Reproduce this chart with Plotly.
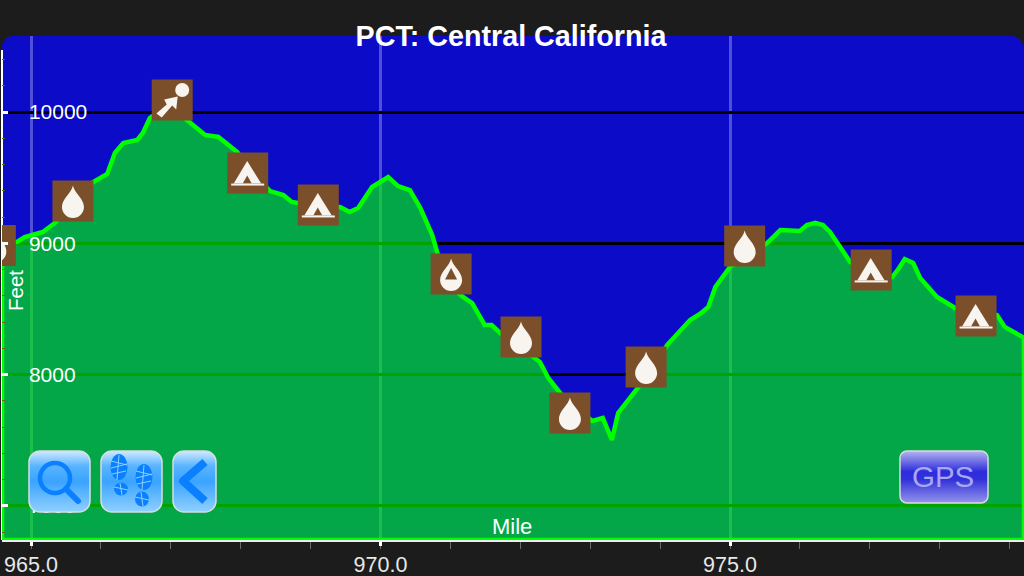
import base64
import plotly.graph_objects as go

# Elevation profile
miles = [964.585, 964.80, 964.91, 965.17, 965.34, 965.60, 965.89, 966.09, 966.20, 966.32,
         966.52, 966.60, 966.70, 966.85, 967.10, 967.23, 967.49, 967.68, 967.95, 968.13,
         968.42, 968.61, 968.73, 968.82, 969.13, 969.42, 969.56, 969.68, 969.88, 970.11,
         970.25, 970.42, 970.57, 970.74, 970.85, 970.99, 971.18, 971.31, 971.49, 971.59,
         971.71, 972.00, 972.28, 972.40, 972.57, 972.78, 973.03, 973.18, 973.31, 973.40,
         973.67, 973.86, 974.10, 974.28, 974.43, 974.57, 974.69, 974.79, 975.00, 975.29,
         975.53, 975.72, 976.00, 976.10, 976.22, 976.33, 976.43, 976.72, 977.00, 977.32,
         977.40, 977.50, 977.62, 977.72, 977.96, 978.22, 978.50, 978.82, 978.93, 979.206]
feet = [8987, 9010, 9048, 9086, 9155, 9307, 9467, 9528, 9688, 9764,
        9787, 9840, 9954, 10008, 10000, 9939, 9825, 9810, 9695, 9558,
        9398, 9368, 9315, 9307, 9276, 9276, 9238, 9269, 9429, 9505,
        9436, 9406, 9269, 9063, 8858, 8682, 8591, 8545, 8378, 8378,
        8317, 8210, 8096, 7974, 7860, 7746, 7647, 7670, 7502, 7708,
        7898, 8020, 8225, 8324, 8416, 8462, 8515, 8667, 8820, 8911,
        9002, 9101, 9094, 9139, 9155, 9139, 9086, 8858, 8781, 8743,
        8797, 8880, 8850, 8736, 8591, 8507, 8477, 8454, 8363, 8280]

# Waypoints on the trail
way_miles = [964.49, 965.60, 967.02, 968.10, 969.11, 971.01, 972.01, 972.71, 973.80, 975.21, 977.02, 978.52]
way_feet = [8983, 9322, 10091, 9535, 9292, 8766, 8286, 7708, 8058, 8979, 8797, 8446]
way_kind = ["drop", "drop", "exit", "tent", "tent", "half", "drop", "drop", "drop", "drop", "tent", "tent"]

x_ticks = [965, 970, 975]
x_labels = ["965.0", "970.0", "975.0"]
y_ticks = [7000, 8000, 9000, 10000]
y_labels = ["7000", "8000", "9000", "10000"]

x_range = [964.585, 979.206]
y_range = [6740, 10579]

FONDO = "#1c1c1c"
AZUL = "#0c0cc8"
BROWN = "#7b4f2a"
WHITE = "#f8f4f0"
FONT = "Liberation Sans"

# plot area in pixels
L, R, T, B = 2, 1024, 36, 540


def px(x):
    return (x - L) / (R - L)


def py(y):
    return (B - y) / (B - T)


def svg_uri(w, h, body):
    s = f'<svg xmlns="http://www.w3.org/2000/svg" width="{w*4}" height="{h*4}" viewBox="0 0 {w} {h}">{body}</svg>'
    return "data:image/svg+xml;base64," + base64.b64encode(s.encode()).decode()


DROP = "M20.5 5C19 13 9.5 18 9.5 26.5A11 11 0 0 0 31.5 26.5C31.5 18 22 13 20.5 5Z"
ICONS = {
    "drop": f'<path d="{DROP}" fill="{WHITE}"/>',
    "half": f'<path d="{DROP}" fill="{WHITE}"/><path d="M20.5 14.5L26.5 26H14.5Z" fill="{BROWN}"/>',
    "tent": f'<path d="M20 8.5L34 31H6.5Z" fill="{WHITE}"/><path d="M20 23L24.5 31H15.5Z" fill="{BROWN}"/>'
            f'<rect x="4" y="31" width="33" height="2" fill="{WHITE}"/>',
    "exit": f'<circle cx="30.5" cy="10.5" r="7" fill="{WHITE}"/>'
            f'<path d="M4.7 34L15 25L12.5 20L26 17L24.5 30L20.5 26L10 38Z" fill="{WHITE}"/>',
}

BLUE_GRAD = ('<defs><linearGradient id="g" x1="0" y1="0" x2="0" y2="1">'
             '<stop offset="0" stop-color="#d0eaff"/><stop offset="0.25" stop-color="#58b4ff"/>'
             '<stop offset="0.5" stop-color="#3aa4ff"/><stop offset="1" stop-color="#90d0ff"/>'
             '</linearGradient></defs>')
GPS_GRAD = ('<defs><linearGradient id="g" x1="0" y1="0" x2="0" y2="1">'
            '<stop offset="0" stop-color="#b4b4f0"/><stop offset="0.4" stop-color="#2c2cdc"/>'
            '<stop offset="0.55" stop-color="#3232dc"/><stop offset="1" stop-color="#9494ea"/>'
            '</linearGradient></defs>')


def boton(w, h, grad, inner, rx=11):
    return svg_uri(w, h, grad + f'<rect x="1" y="1" width="{w-2}" height="{h-2}" rx="{rx}" fill="url(#g)" '
                                'stroke="#d8dce0" stroke-width="1.5"/>' + inner)


AZ = "#0a80ff"
LUPA = (f'<circle cx="27" cy="28" r="15" fill="none" stroke="{AZ}" stroke-width="4.5"/>'
        f'<path d="M38 39L50 51" stroke="{AZ}" stroke-width="6" stroke-linecap="round"/>')
TREAD = 'stroke="#8fd0ff" stroke-width="1" fill="none"'
BOTAS = (f'<ellipse cx="19" cy="17" rx="8.5" ry="13" fill="{AZ}"/><ellipse cx="21" cy="39" rx="7" ry="6.5" fill="{AZ}"/>'
         f'<ellipse cx="44" cy="27" rx="8.5" ry="13" fill="{AZ}"/><ellipse cx="42" cy="49" rx="7" ry="7.5" fill="{AZ}"/>'
         f'<path d="M11 11L27 15M11 18L27 14M12 24L26 21M19 5L17 30M14 37L28 40M20 33L22 45" {TREAD}/>'
         f'<path d="M36 21L52 25M36 28L52 24M37 34L51 31M44 15L42 40M35 47L49 50M41 42L43 56" {TREAD}/>')
ATRAS = f'<path d="M33 12L11 31L33 51" fill="none" stroke="{AZ}" stroke-width="8" stroke-linejoin="round"/>'

fig = go.Figure()

# Terrain polygon, closed down to the axis so its outline runs along the bottom and left
fig.add_trace(go.Scatter(
    x=[x_range[0]] + miles + [x_range[1], x_range[0]],
    y=[y_range[0]] + feet + [y_range[0], y_range[0]],
    mode="lines",
    fill="toself",
    fillcolor="rgba(0,255,0,0.64)",
    line=dict(color="#00ff00", width=4.5),
    hoverinfo="skip",
))

fig.add_trace(go.Scatter(
    x=way_miles, y=way_feet,
    mode="markers",
    marker=dict(symbol="square", size=41, color=BROWN, line=dict(width=0)),
    hoverinfo="skip",
))

# Y labels sit inside the plot, left aligned next to the first grid line.
# ticklabelposition="inside" would hide the 965 tick and grid, so they are a text trace.
# The small nudge centres the digits on the grid line.
fig.add_trace(go.Scatter(
    x=[x_ticks[0] - 0.03] * len(y_ticks), y=[t - 15 for t in y_ticks],
    mode="text",
    text=y_labels,
    textposition="middle right",
    textfont=dict(family=FONT, size=21, color="white"),
    hoverinfo="skip",
))

imagenes = []
for m, f, k in zip(way_miles, way_feet, way_kind):
    imagenes.append(dict(
        source=svg_uri(41, 41, ICONS[k]),
        xref="x", yref="y", x=m, y=f,
        sizex=41 * (x_range[1] - x_range[0]) / (R - L),
        sizey=41 * (y_range[1] - y_range[0]) / (B - T),
        xanchor="center", yanchor="middle", sizing="stretch", layer="above",
    ))

for x0, y0, w, h, src in [
    (28, 450, 63, 63, boton(63, 63, BLUE_GRAD, LUPA)),
    (100, 450, 63, 63, boton(63, 63, BLUE_GRAD, BOTAS)),
    (172, 450, 45, 63, boton(45, 63, BLUE_GRAD, ATRAS)),
    (899, 450, 90, 54, boton(90, 54, GPS_GRAD, "", rx=7)),
]:
    imagenes.append(dict(
        source=src, xref="paper", yref="paper", x=px(x0), y=py(y0),
        sizex=w / (R - L), sizey=h / (B - T),
        xanchor="left", yanchor="top", sizing="stretch", layer="above",
    ))

shapes = [
    # white left edge, under the terrain
    dict(type="line", xref="paper", yref="paper", x0=0, x1=0, y0=0, y1=py(50),
         line=dict(color="white", width=2), layer="below"),
    # rounded top corners
    dict(type="path", xref="paper", yref="paper", fillcolor=FONDO, line=dict(width=0), layer="above",
         path=f"M{px(0)},{py(35)} L{px(17)},{py(35)} Q{px(1)},{py(36)} {px(1)},{py(52)} L{px(0)},{py(52)} Z"),
    dict(type="path", xref="paper", yref="paper", fillcolor=FONDO, line=dict(width=0), layer="above",
         path=f"M{px(1024)},{py(35)} L{px(1008)},{py(35)} Q{px(1024)},{py(36)} {px(1024)},{py(52)} Z"),
]

anotaciones = [
    dict(text="Feet", xref="paper", yref="paper", x=px(15), y=py(291), textangle=-90, showarrow=False,
         xanchor="center", yanchor="middle", font=dict(family=FONT, size=20.5, color="white")),
    dict(text="Mile", xref="paper", yref="paper", x=px(511.5), y=py(526), showarrow=False,
         xanchor="center", yanchor="middle", font=dict(family=FONT, size=22, color="white")),
    dict(text="GPS", xref="paper", yref="paper", x=px(943), y=py(476), showarrow=False,
         xanchor="center", yanchor="middle", font=dict(family=FONT, size=29.5, color="#a8a8f0")),
]

fig.update_layout(
    width=1024, height=576,
    autosize=False,
    margin=dict(l=L, r=1024 - R, t=T, b=576 - B, pad=0),
    paper_bgcolor=FONDO,
    plot_bgcolor=AZUL,
    showlegend=False,
    title=dict(text="PCT: Central California", x=511 / 1024, y=1 - 36 / 576,
               xanchor="center", yanchor="middle",
               font=dict(family=FONT, size=28.7, color="white", weight=700)),
    images=imagenes,
    shapes=shapes,
    annotations=anotaciones,
)

fig.update_xaxes(
    range=x_range,
    tickvals=x_ticks, ticktext=x_labels,
    ticks="outside", ticklen=4, tickwidth=3, tickcolor="white",
    tickfont=dict(family=FONT, size=21.5, color="#e8e8e8"),
    showline=True, linecolor="#f0f0f0", linewidth=2,
    showgrid=True, gridcolor="rgba(255,255,255,0.28)", gridwidth=3,
    minor=dict(dtick=1, ticks="outside", ticklen=7, tickwidth=1, tickcolor="#6a6a6a", showgrid=False),
    zeroline=False,
)
fig.update_yaxes(
    range=y_range,
    tickvals=y_ticks, showticklabels=False,
    ticks="inside", ticklen=6, tickwidth=3, tickcolor="white",
    showline=False,
    showgrid=True, gridcolor="black", gridwidth=3,
    minor=dict(dtick=200, ticks="inside", ticklen=3, tickwidth=1, tickcolor="#5a6a20", showgrid=False),
    zeroline=False,
)

# the page's default body margin would push the chart off the window
fig.write_html("out.html", config=dict(displayModeBar=False),
               post_script="document.body.style.margin='0';document.documentElement.style.overflow='hidden';")
